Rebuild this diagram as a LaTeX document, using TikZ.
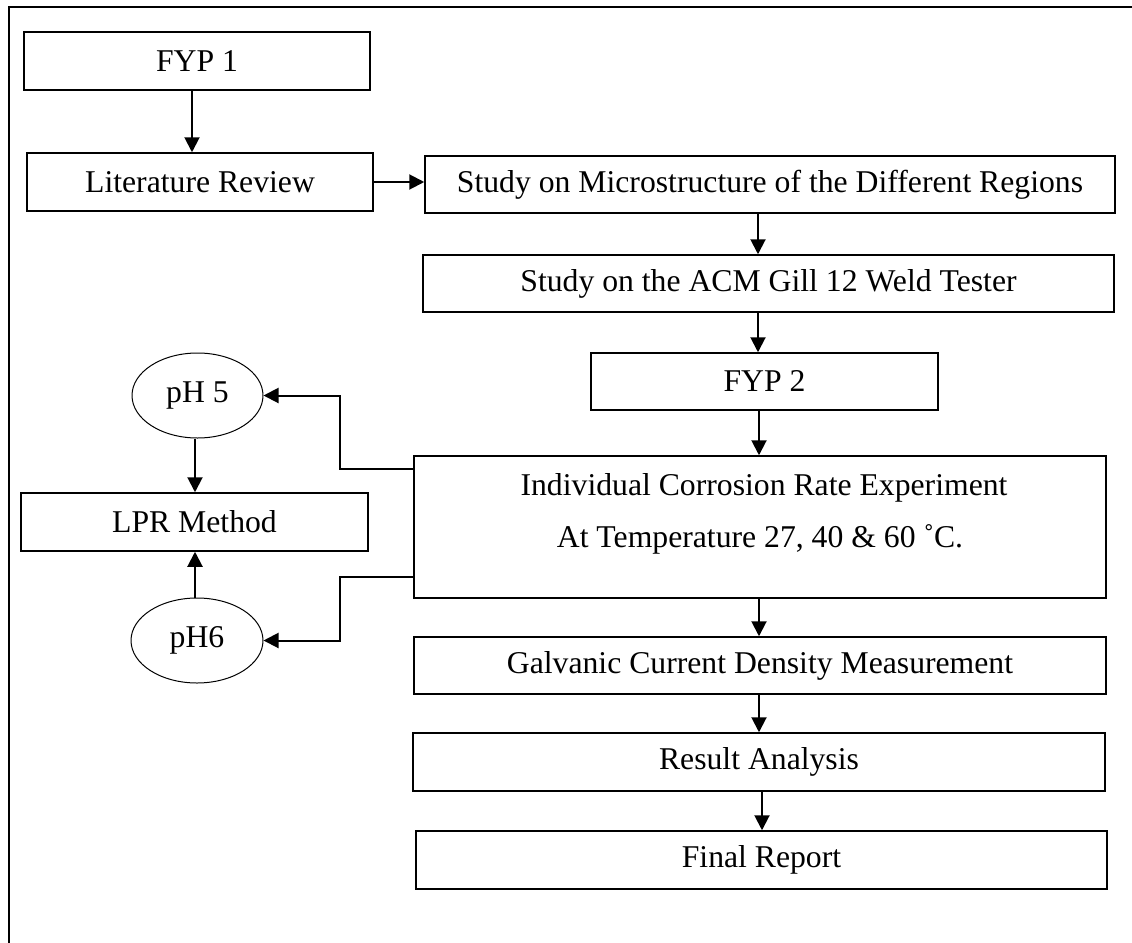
\documentclass[tikz,border=0pt]{standalone}
\usepackage{fontspec}
\setmainfont{Liberation Serif}
\usetikzlibrary{arrows.meta,shapes.geometric}
\begin{document}
\begin{tikzpicture}[x=1pt,y=-1pt,
  txtfont/.style={font=\fontsize{31.7}{38}\selectfont},
  box/.style={draw, line width=1.5pt, rectangle, inner sep=0pt, txtfont},
  oval/.style={draw, line width=1pt, ellipse, inner sep=0pt, txtfont},
  plain/.style={inner sep=0pt, txtfont},
  arr/.style={line width=2pt, -{Triangle[length=15pt,width=15pt]}},
  link/.style={line width=2pt}
]
\useasboundingbox (0,0) rectangle (1132,942);
\draw[line width=1.5pt] (9,7) rectangle (1160,970);

% nodes
\node[box, minimum width=346pt, minimum height=58pt] (fyp1) at (197,61) {FYP 1};
\node[box, minimum width=346pt, minimum height=58pt] (lit) at (200,182) {Literature Review};
\node[box, minimum width=690pt, minimum height=57pt] (micro) at (770,184.5) {Study on Microstructure of the Different Regions};
\node[box, minimum width=691pt, minimum height=57pt] (acm) at (768.5,283.5) {Study on the ACM Gill 12 Weld Tester};
\node[box, minimum width=347pt, minimum height=57pt] (fyp2) at (764.5,381.5) {FYP 2};
\node[box, minimum width=692pt, minimum height=142pt] (ind) at (760,527) {};
\node[plain, anchor=base] (indA) at (764,495) {Individual Corrosion Rate Experiment};
\node[plain, anchor=base] (indB) at (760,547) {At Temperature 27, 40 \& 60 ˚C.};
\node[box, minimum width=692pt, minimum height=57pt] (galv) at (760,665.5) {Galvanic Current Density Measurement};
\node[box, minimum width=692pt, minimum height=58pt] (ra) at (759,762) {Result Analysis};
\node[box, minimum width=691pt, minimum height=58pt] (fr) at (761.5,860) {Final Report};
\node[box, minimum width=347pt, minimum height=58pt] (lpr) at (194.5,522) {LPR Method};
\node[oval, minimum width=131pt, minimum height=85pt] (ph5) at (197.5,395.5) {pH 5};
\node[oval, minimum width=132pt, minimum height=85pt] (ph6) at (197,640.5) {pH6};

% column coordinates
\coordinate (c1) at (192,0);
\coordinate (c2) at (758,0);
\coordinate (c3) at (759,0);
\coordinate (c4) at (762,0);
\coordinate (c5) at (195,0);
\coordinate (j1) at (340,469);
\coordinate (j2) at (340,577);

% connectors
\draw[arr] (fyp1.south -| c1) -- (lit.north -| c1);
\draw[arr] (lit.east) -- (lit.east -| micro.west);
\draw[arr] (micro.south -| c2) -- (acm.north -| c2);
\draw[arr] (acm.south -| c2) -- (fyp2.north -| c2);
\draw[arr] (fyp2.south -| c3) -- (ind.north -| c3);
\draw[arr] (ind.south -| c3) -- (galv.north -| c3);
\draw[arr] (galv.south -| c3) -- (ra.north -| c3);
\draw[arr] (ra.south -| c4) -- (fr.north -| c4);
\draw[arr] (ph5.south -| c5) -- (lpr.north -| c5);
\draw[arr] (ph6.north -| c5) -- (lpr.south -| c5);
\draw[arr] (ind.west |- j1) -- (j1) |- (ph5.east);
\draw[arr] (ind.west |- j2) -- (j2) |- (ph6.east);
\end{tikzpicture}
\end{document}
